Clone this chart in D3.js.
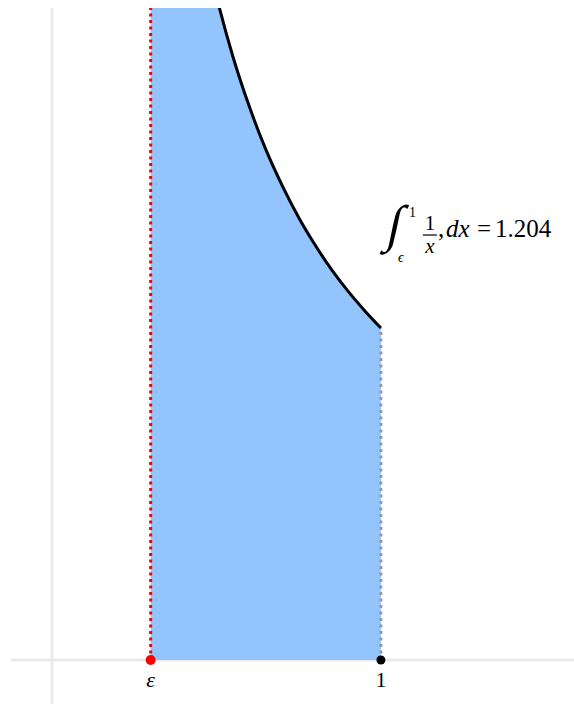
<!DOCTYPE html>
<html>
<head>
<meta charset="utf-8">
<script src="https://cdn.jsdelivr.net/npm/d3@7"></script>
<style>
  body { margin: 0; background: #fff; }
  svg { display: block; }
  .math { font-family: "Liberation Serif", serif; fill: #000; }
</style>
</head>
<body>
<div id="chart"></div>
<script>
// bounds of the integral
var lower = 0.3;
var upper = 1;
var integralValue = 1.204;

// points read along the curve y = 1/x
var curveX = [0.30, 0.35, 0.40, 0.45, 0.50, 0.55, 0.60, 0.65, 0.70, 0.75, 0.80, 0.85, 0.90, 0.95, 1.00];
var curveY = [3.333, 2.857, 2.500, 2.222, 2.000, 1.818, 1.667, 1.538, 1.429, 1.333, 1.250, 1.176, 1.111, 1.053, 1.000];

// tick labels on the x axis
var tickValues = [0.3, 1];
var tickLabels = ["ε", "1"];

var width = 574,
    height = 704;

var svg = d3.select("#chart")
  .append("svg")
    .attr("width", width)
    .attr("height", height);

var x = d3.scaleLinear()
  .domain([-0.158, 1.587])
  .range([0, width]);

var y = d3.scaleLinear()
  .domain([-0.1325, 1.964])
  .range([height, 8]);

var points = curveX.map(function(d, i) { return {x: d, y: curveY[i]}; });

// clip everything to the plot area
svg.append("defs").append("clipPath")
    .attr("id", "clip")
  .append("rect")
    .attr("x", 0)
    .attr("y", y(1.964))
    .attr("width", width)
    .attr("height", height - y(1.964));

// axis lines
svg.append("line")
    .attr("x1", x(-0.125)).attr("x2", width)
    .attr("y1", y(0)).attr("y2", y(0))
    .style("stroke", "#e8e8e8")
    .style("stroke-width", 2.5);

svg.append("line")
    .attr("x1", x(0)).attr("x2", x(0))
    .attr("y1", y(1.964)).attr("y2", height)
    .style("stroke", "#e8e8e8")
    .style("stroke-width", 2.5);

var plot = svg.append("g").attr("clip-path", "url(#clip)");

// shaded area under the curve
plot.append("path")
    .datum(points)
    .attr("fill", "#94c4fc")
    .attr("d", d3.area()
      .x(function(d) { return x(d.x); })
      .y0(y(0))
      .y1(function(d) { return y(d.y); })
      .curve(d3.curveMonotoneX));

// bound lines
plot.append("line")
    .attr("x1", x(lower)).attr("x2", x(lower))
    .attr("y1", y(0)).attr("y2", y(1.964))
    .style("stroke", "#ff0000")
    .style("stroke-width", 3)
    .attr("stroke-dasharray", "3,3.5");

plot.append("line")
    .attr("x1", x(upper)).attr("x2", x(upper))
    .attr("y1", y(0)).attr("y2", y(curveY[curveY.length - 1]))
    .style("stroke", "#999")
    .style("stroke-width", 3)
    .attr("stroke-dasharray", "3,3.5");

// the curve
plot.append("path")
    .datum(points)
    .attr("fill", "none")
    .attr("stroke", "#000")
    .attr("stroke-width", 3)
    .attr("d", d3.line()
      .x(function(d) { return x(d.x); })
      .y(function(d) { return y(d.y); })
      .curve(d3.curveMonotoneX));

// points on the axis
svg.append("circle")
    .attr("cx", x(lower)).attr("cy", y(0)).attr("r", 5)
    .attr("fill", "#ff0000");

svg.append("circle")
    .attr("cx", x(upper)).attr("cy", y(0)).attr("r", 4.5)
    .attr("fill", "#000");

// tick labels
svg.selectAll(".tick-label")
  .data(tickValues)
  .enter().append("text")
    .attr("class", "math tick-label")
    .attr("x", function(d) { return x(d); })
    .attr("y", y(0) + 27)
    .attr("text-anchor", "middle")
    .style("font-size", "22px")
    .style("font-style", function(d, i) { return i == 0 ? "italic" : "normal"; })
    .text(function(d, i) { return tickLabels[i]; });

// integral label, placed above the curve's last point
var lx = x(upper) + 4,
    ly = y(curveY[curveY.length - 1]) - 91;

var label = svg.append("g").attr("class", "math")
    .attr("transform", "translate(" + lx + "," + ly + ")");

label.append("text")
    .attr("transform", "translate(0,4) skewX(-12)")
    .style("font-size", "51px")
    .text("∫");

label.append("text")
    .attr("x", 24).attr("y", -20)
    .style("font-size", "14px")
    .text(upper);

label.append("text")
    .attr("x", 13).attr("y", 25)
    .style("font-size", "14px")
    .style("font-style", "italic")
    .text("ϵ");

label.append("text")
    .attr("x", 45).attr("y", -7)
    .attr("text-anchor", "middle")
    .style("font-size", "21px")
    .text("1");

label.append("line")
    .attr("x1", 38).attr("x2", 52)
    .attr("y1", -2).attr("y2", -2)
    .style("stroke", "#000")
    .style("stroke-width", 1.2);

label.append("text")
    .attr("x", 45).attr("y", 16)
    .attr("text-anchor", "middle")
    .style("font-size", "21px")
    .style("font-style", "italic")
    .text("x");

var rest = label.append("text")
    .attr("y", 0)
    .style("font-size", "25px");
rest.append("tspan").attr("x", 53).text(",");
rest.append("tspan").attr("x", 61).style("font-style", "italic").text("dx");
rest.append("tspan").attr("x", 92).text("=");
rest.append("tspan").attr("x", 110).text(integralValue);
</script>
</body>
</html>
